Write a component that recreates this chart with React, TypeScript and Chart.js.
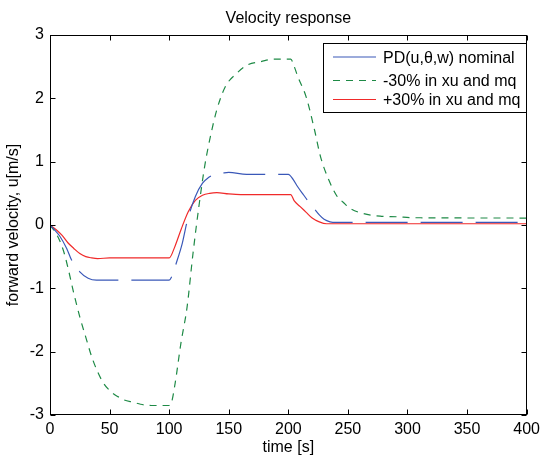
import React, { useEffect, useRef } from "react";
import { Chart, registerables } from "chart.js";

Chart.register(...registerables);

const TITLE = "Velocity response";
const X_LABEL = "time [s]";
const Y_LABEL = "forward velocity, u[m/s]";
const X_TICKS = [0, 50, 100, 150, 200, 250, 300, 350, 400];
const Y_TICKS = [-3, -2, -1, 0, 1, 2, 3];
const SERIES_LABELS = ["PD(u,\u03b8,w) nominal", "-30% in xu and mq", "+30% in xu and mq"];

const nominalT = [0, 4, 8, 14, 18, 25, 32, 39, 100, 102, 106, 111, 115, 122, 128, 133, 138, 145, 150, 165, 200, 204, 208, 213, 218, 222, 226, 230, 235, 240, 400];
const nominalU = [0, -0.08, -0.17, -0.37, -0.55, -0.74, -0.84, -0.87, -0.87, -0.82, -0.6, -0.29, 0.05, 0.45, 0.66, 0.75, 0.8, 0.82, 0.83, 0.8, 0.8, 0.72, 0.6, 0.47, 0.34, 0.25, 0.16, 0.09, 0.05, 0.04, 0.04];

const minusT = [0, 4, 8, 12, 16, 20, 25, 30, 35, 40, 45, 51, 57, 62, 70, 76, 85, 100, 102, 105, 110, 115, 120, 125, 130, 135, 140, 147, 157, 166, 177, 188, 202, 205, 208, 215, 222, 227, 234, 241, 246, 252, 263, 277, 291, 305, 400];
const minusU = [0, -0.1, -0.24, -0.45, -0.75, -1.08, -1.45, -1.77, -2.08, -2.32, -2.5, -2.63, -2.71, -2.76, -2.8, -2.83, -2.85, -2.85, -2.8, -2.5, -1.85, -1.3, -0.45, 0.3, 0.95, 1.43, 1.82, 2.18, 2.4, 2.53, 2.58, 2.62, 2.62, 2.5, 2.34, 2.02, 1.5, 1.08, 0.71, 0.45, 0.36, 0.26, 0.18, 0.14, 0.13, 0.115, 0.11];

const plusT = [0, 5, 10, 15, 20, 25, 30, 35, 40, 50, 100, 105, 110, 116, 122, 128, 134, 140, 150, 160, 202, 205, 210, 215, 220, 226, 232, 240, 400];
const plusU = [0, -0.07, -0.16, -0.28, -0.37, -0.45, -0.5, -0.52, -0.53, -0.52, -0.52, -0.33, -0.07, 0.21, 0.39, 0.47, 0.5, 0.51, 0.49, 0.48, 0.48, 0.38, 0.29, 0.2, 0.11, 0.05, 0.02, 0.02, 0.02];

const COLORS = ["#3a58b8", "#1e8a46", "#f02a2a"];
const FONT = "'Liberation Sans', Arial, sans-serif";
const FS = 16;

const toPts = (t: number[], u: number[]) => t.map((v, i) => ({ x: v, y: u[i] }));

const framePlugin = {
  id: "frameAndLegend",
  afterDatasetsDraw(chart: any) {
    const { ctx, chartArea: a, scales } = chart;
    const xs = scales.x;
    const ys = scales.y;
    ctx.save();
    ctx.strokeStyle = "#000";
    ctx.lineWidth = 1;
    ctx.setLineDash([]);
    const L = Math.round(a.left) + 0.5;
    const R = Math.round(a.right) - 0.5;
    const T = Math.round(a.top) + 0.5;
    const B = Math.round(a.bottom) - 0.5;
    ctx.strokeRect(L, T, R - L, B - T);
    const tl = 5;
    ctx.beginPath();
    X_TICKS.forEach((v) => {
      const px = Math.round(xs.getPixelForValue(v)) + 0.5;
      ctx.moveTo(px, B);
      ctx.lineTo(px, B - tl);
      ctx.moveTo(px, T);
      ctx.lineTo(px, T + tl);
    });
    Y_TICKS.forEach((v) => {
      const py = Math.round(ys.getPixelForValue(v)) + 0.5;
      ctx.moveTo(L, py);
      ctx.lineTo(L + tl, py);
      ctx.moveTo(R, py);
      ctx.lineTo(R - tl, py);
    });
    ctx.stroke();

    // title
    ctx.fillStyle = "#000";
    ctx.font = `${FS}px ${FONT}`;
    ctx.textAlign = "center";
    ctx.textBaseline = "middle";
    ctx.fillText(TITLE, (a.left + a.right) / 2, 19);

    // legend
    const bx = 323.5, by = 43.5, bw = 203, bh = 69;
    ctx.fillStyle = "#fff";
    ctx.fillRect(bx, by, bw, bh);
    ctx.strokeStyle = "#000";
    ctx.lineWidth = 1;
    ctx.strokeRect(bx, by, bw, bh);
    const rows = [57, 80.5, 99.5];
    chart.data.datasets.forEach((ds: any, i: number) => {
      ctx.strokeStyle = ds.borderColor;
      ctx.lineWidth = 1.2;
      ctx.setLineDash(ds.legendDash || []);
      ctx.beginPath();
      ctx.moveTo(333, rows[i]);
      ctx.lineTo(376, rows[i]);
      ctx.stroke();
      ctx.setLineDash([]);
      ctx.fillStyle = "#000";
      ctx.textAlign = "left";
      ctx.textBaseline = "middle";
      ctx.fillText(ds.label, 383, rows[i] + 1.2);
    });
    ctx.restore();
  },
};

export default function App() {
  const ref = useRef<HTMLCanvasElement | null>(null);
  useEffect(() => {
    if (!ref.current) return;
    const common = { borderWidth: 1.2, pointRadius: 0, cubicInterpolationMode: "monotone", fill: false };
    const chart = new Chart(ref.current, {
      type: "line",
      data: {
        datasets: [
          {
            ...common,
            label: SERIES_LABELS[0],
            data: toPts(nominalT, nominalU),
            borderColor: COLORS[0],
            borderDash: [42, 13],
            legendDash: [],
          } as any,
          {
            ...common,
            label: SERIES_LABELS[1],
            data: toPts(minusT, minusU),
            borderColor: COLORS[1],
            borderDash: [7, 6],
            legendDash: [7, 6],
          } as any,
          {
            ...common,
            label: SERIES_LABELS[2],
            data: toPts(plusT, plusU),
            borderColor: COLORS[2],
            legendDash: [],
          } as any,
        ],
      },
      options: {
        responsive: false,
        maintainAspectRatio: false,
        devicePixelRatio: 1,
        animation: false,
        layout: { padding: { top: 35, right: 14, left: 0, bottom: 0 } },
        plugins: { legend: { display: false }, title: { display: false }, tooltip: { enabled: false } },
        scales: {
          x: {
            type: "linear",
            min: 0,
            max: 400,
            afterBuildTicks: (s: any) => {
              s.ticks = X_TICKS.map((v) => ({ value: v }));
            },
            afterFit: (s: any) => {
              s.height = 44;
            },
            grid: { display: false, drawTicks: false },
            border: { display: false },
            ticks: { color: "#000", font: { family: FONT, size: FS }, padding: 5, maxRotation: 0, autoSkip: false },
            title: { display: true, text: X_LABEL, color: "#000", font: { family: FONT, size: FS }, padding: { top: 0, bottom: 1.5 } },
          },
          y: {
            type: "linear",
            min: -3,
            max: 3,
            afterBuildTicks: (s: any) => {
              s.ticks = Y_TICKS.map((v) => ({ value: v }));
            },
            afterFit: (s: any) => {
              s.width = 50;
            },
            grid: { display: false, drawTicks: false },
            border: { display: false },
            ticks: { color: "#000", font: { family: FONT, size: FS }, padding: 6, autoSkip: false },
            title: { display: true, text: Y_LABEL, color: "#000", font: { family: FONT, size: FS }, padding: { top: 4, bottom: 0 } },
          },
        },
      } as any,
      plugins: [framePlugin],
    });
    return () => chart.destroy();
  }, []);
  return (
    <div style={{ position: "fixed", left: 0, top: 0, width: 545, height: 459, background: "#fff" }}>
      <canvas ref={ref} width={545} height={459} style={{ display: "block" }} />
    </div>
  );
}
